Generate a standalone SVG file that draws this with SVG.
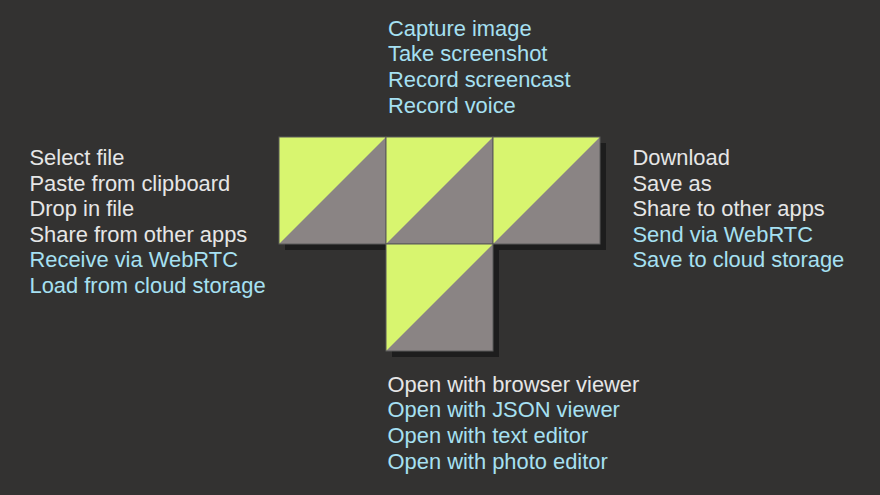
<svg xmlns="http://www.w3.org/2000/svg" width="880" height="495" viewBox="0 0 880 495">
<defs>
<style>
.t{font-family:"Liberation Sans",Arial,sans-serif;font-size:21.9px}
.w{fill:#e6e6e6}
.b{fill:#a6e0f2}
.sh{fill:#1d1d1d}
.g{fill:#d8f56f}
.d{fill:#8a8484}
.fr{fill:none;stroke:#5a5a5a;stroke-width:1}
</style>
</defs>
<rect width="880" height="495" fill="#333231"/>
<g id="shadows">
<rect class="sh" x="285" y="143" width="321" height="107"/>
<rect class="sh" x="392" y="250" width="107" height="107"/>
</g>
<g id="tile1">
<rect class="d" x="279" y="137" width="107" height="107"/>
<polygon class="g" points="279,137 386,137 279,244"/>
<rect class="fr" x="279" y="137" width="107" height="107"/>
</g>
<g id="tile2">
<rect class="d" x="386" y="137" width="107" height="107"/>
<polygon class="g" points="386,137 493,137 386,244"/>
<rect class="fr" x="386" y="137" width="107" height="107"/>
</g>
<g id="tile3">
<rect class="d" x="493" y="137" width="107" height="107"/>
<polygon class="g" points="493,137 600,137 493,244"/>
<rect class="fr" x="493" y="137" width="107" height="107"/>
</g>
<g id="tile4">
<rect class="d" x="386" y="244" width="107" height="107"/>
<polygon class="g" points="386,244 493,244 386,351"/>
<rect class="fr" x="386" y="244" width="107" height="107"/>
</g>
<g id="top-list" class="t">
<text class="b" x="388" y="35.7">Capture image</text>
<text class="b" x="388" y="61.3">Take screenshot</text>
<text class="b" x="388" y="86.9">Record screencast</text>
<text class="b" x="388" y="112.5">Record voice</text>
</g>
<g id="left-list" class="t">
<text class="w" x="29.5" y="165">Select file</text>
<text class="w" x="29.5" y="190.6">Paste from clipboard</text>
<text class="w" x="29.5" y="216.2">Drop in file</text>
<text class="w" x="29.5" y="241.8">Share from other apps</text>
<text class="b" x="29.5" y="267.4">Receive via WebRTC</text>
<text class="b" x="29.5" y="293">Load from cloud storage</text>
</g>
<g id="right-list" class="t">
<text class="w" x="632.5" y="165">Download</text>
<text class="w" x="632.5" y="190.6">Save as</text>
<text class="w" x="632.5" y="216.2">Share to other apps</text>
<text class="b" x="632.5" y="241.8">Send via WebRTC</text>
<text class="b" x="632.5" y="267.4">Save to cloud storage</text>
</g>
<g id="bottom-list" class="t">
<text class="w" x="387.5" y="391.7">Open with browser viewer</text>
<text class="b" x="387.5" y="417.3">Open with JSON viewer</text>
<text class="b" x="387.5" y="442.9">Open with text editor</text>
<text class="b" x="387.5" y="468.5">Open with photo editor</text>
</g>
<g id="connectors"/>
</svg>
